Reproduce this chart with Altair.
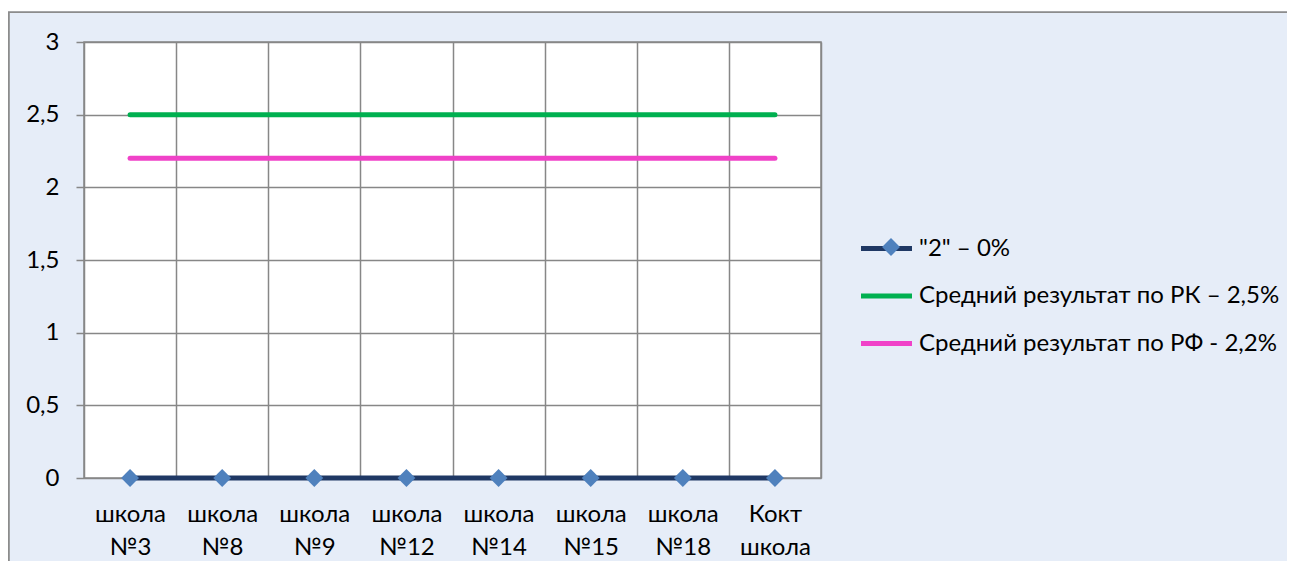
import altair as alt
import pandas as pd

# ---- data ----
categories = ["школа №3", "школа №8", "школа №9", "школа №12",
              "школа №14", "школа №15", "школа №18", "Кокт школа"]
series_names = ['"2" – 0%',
                "Средний результат по РК – 2,5%",
                "Средний результат по РФ - 2,2%"]
values_2 = [0, 0, 0, 0, 0, 0, 0, 0]
values_rk = [2.5, 2.5, 2.5, 2.5, 2.5, 2.5, 2.5, 2.5]
values_rf = [2.2, 2.2, 2.2, 2.2, 2.2, 2.2, 2.2, 2.2]
y_ticks = [0, 0.5, 1, 1.5, 2, 2.5, 3]
title_text = "Диаграмма 10"

# ---- styles ----
line_colors = ["#1F3864", "#00B050", "#F042C8"]
marker_color = "#4F81BD"
grid_gray = "#878787"
area_bg = "#E6EDF8"
FONT = "Lato"
FS = 24

rows = []
for name, vals in zip(series_names, [values_2, values_rk, values_rf]):
    for c, v in zip(categories, vals):
        rows.append({"category": c, "value": v, "series": name})
df = pd.DataFrame(rows)
df_pts = pd.DataFrame({"category": categories, "value": values_2,
                       "series": [series_names[0]] * len(categories)})

W, H = 737, 436
PAD = {"left": 76, "top": 34, "right": 1279 - 76 - W, "bottom": 553 - 34 - H}

x_enc = alt.X(
    "category:N", sort=categories,
    scale=alt.Scale(type="band", domain=categories, paddingInner=0, paddingOuter=0),
    axis=alt.Axis(title=None, labelAngle=0, labelExpr="split(datum.label, ' ')",
                  tickBand="extent", ticks=False, domain=False, grid=True,
                  gridColor=grid_gray, gridWidth=1.5, labelFont=FONT,
                  labelFontSize=FS, labelColor="black", labelBaseline="top",
                  labelLineHeight=33, labelPadding=24),
)
y_enc = alt.Y(
    "value:Q", scale=alt.Scale(domain=[0, 3], nice=False, zero=True),
    axis=alt.Axis(title=None, values=y_ticks, format="~g",
                  labelExpr="replace(datum.label, '.', ',')",
                  tickSize=8, tickColor=grid_gray, tickWidth=1.5, domain=False,
                  grid=True, gridColor=grid_gray, gridWidth=1.5,
                  labelFont=FONT, labelFontSize=FS, labelColor="black",
                  labelPadding=17),
)

lines = alt.Chart(df).mark_line(strokeWidth=5, strokeCap="round").encode(
    x=x_enc, y=y_enc,
    color=alt.Color(
        "series:N", sort=series_names,
        scale=alt.Scale(domain=series_names, range=line_colors),
        legend=alt.Legend(
            title=None, orient="none", legendX=787, legendY=191,
            symbolType="M-2,0H2", symbolSize=650,
            symbolStrokeWidth=5,
            labelFont=FONT, labelFontSize=FS, labelColor="black",
            labelOffset=17, rowPadding=19.5, padding=0, labelLimit=600,
        ),
    ),
)

points = alt.Chart(df_pts).mark_point(
    shape="diamond", filled=True, size=320, opacity=1, strokeWidth=0
).encode(
    x=alt.X("category:N", sort=categories), y="value:Q",
    fill=alt.Fill(
        "series:N",
        scale=alt.Scale(domain=[series_names[0]], range=[marker_color]),
        legend=alt.Legend(
            title=None, orient="none", legendX=795, legendY=193,
            symbolType="diamond", symbolSize=320, symbolStrokeWidth=0,
            symbolOpacity=1, labelExpr="''", labelFontSize=FS, padding=0,
        ),
    ),
)

# chart-area decoration: white strip above the frame and the frame border
deco = pd.DataFrame({"d": [0]})
strip = alt.Chart(deco).mark_rect(fill="white", strokeWidth=0).encode(
    x=alt.value(-80), x2=alt.value(1300), y=alt.value(-40), y2=alt.value(-30.5))
frame = alt.Chart(deco).mark_rect(fill=None, stroke="#8C8C8C", strokeWidth=1.8).encode(
    x=alt.value(-75.1), x2=alt.value(1400), y=alt.value(-29.9), y2=alt.value(700))

chart = alt.layer(strip, frame, lines, points).properties(
    width=W, height=H,
    autosize=alt.AutoSizeParams(type="none"),
    padding=PAD,
    background=area_bg,
    title=alt.TitleParams(title_text, anchor="end", frame="group",
                          font="Liberation Serif",
                          fontSize=24, fontStyle="italic", fontWeight="bold",
                          color="black", baseline="bottom", offset=35, dx=434,
                          zindex=1),
).configure_view(fill="white", stroke=grid_gray, strokeWidth=1.5)

chart.save("out.html", embed_options={"renderer": "svg", "actions": False})
